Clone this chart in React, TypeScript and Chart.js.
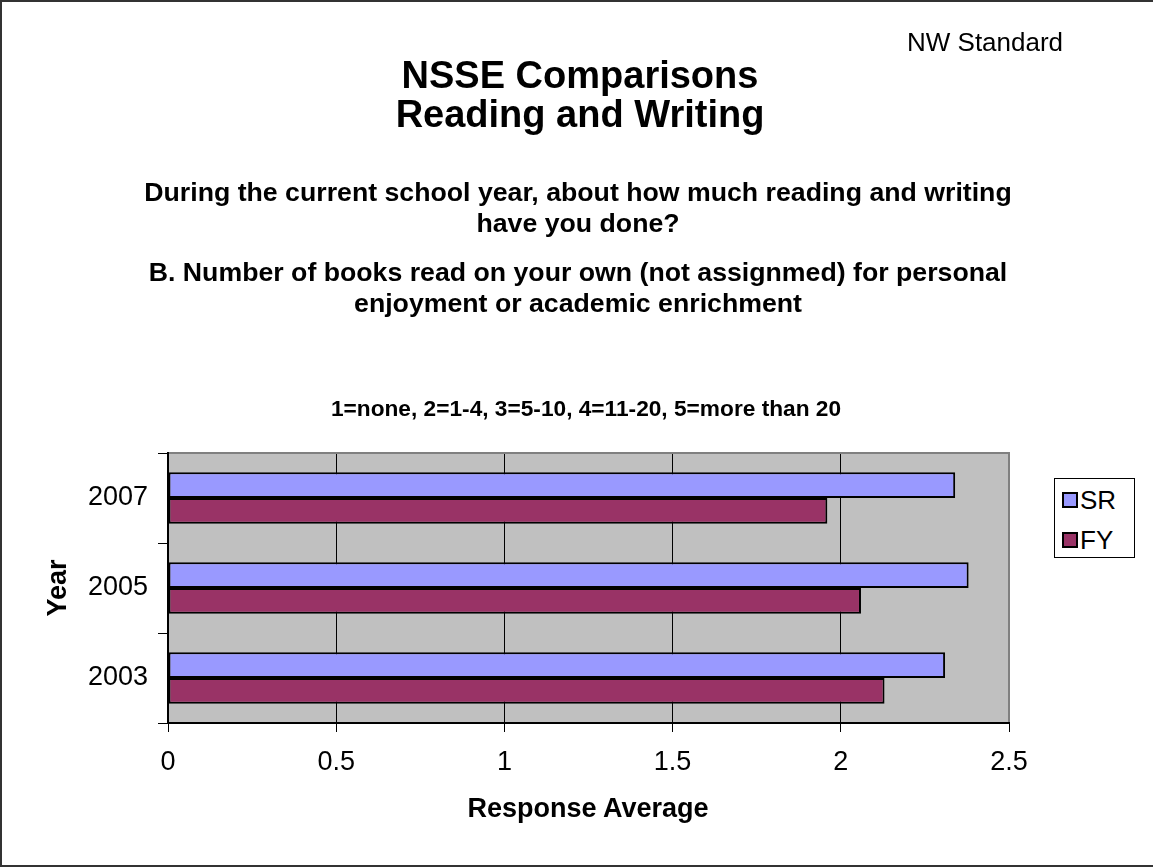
import React, { useEffect, useRef } from 'react';
import { Chart, registerables } from 'chart.js';

Chart.register(...registerables);

// ---- data ----
const categories = ['2007', '2005', '2003'];
const seriesNames = ['SR', 'FY'];
const srValues = [2.34, 2.38, 2.31];
const fyValues = [1.96, 2.06, 2.13];
const seriesColors = ['#9999FF', '#993366'];
const xTickLabels = ['0', '0.5', '1', '1.5', '2', '2.5'];

const titleLines = ['NSSE Comparisons', 'Reading and Writing'];
const questionLines = [
  'During the current school year, about how much reading and writing',
  'have you done?',
];
const itemLines = [
  'B. Number of books read on your own (not assignmed) for personal',
  'enjoyment or academic enrichment',
];
const scaleNote = '1=none, 2=1-4, 3=5-10, 4=11-20, 5=more than 20';
const cornerNote = 'NW Standard';
const xAxisTitle = 'Response Average';
const yAxisTitle = 'Year';

// ---- layout ----
const W = 1153;
const H = 867;
const AREA = { left: 168, top: 453, right: 1009, bottom: 723 };
const FONT = '"Liberation Sans", Arial, Helvetica, sans-serif';

const plotFrame = {
  id: 'plotFrame',
  beforeDraw(chart: any) {
    const { ctx, chartArea: a } = chart;
    ctx.save();
    ctx.fillStyle = '#C0C0C0';
    ctx.fillRect(a.left, a.top, a.right - a.left, a.bottom - a.top);
    ctx.restore();
  },
  afterDraw(chart: any) {
    const { ctx, chartArea: a } = chart;
    ctx.save();
    ctx.strokeStyle = '#808080';
    ctx.lineWidth = 2;
    ctx.beginPath();
    ctx.moveTo(a.left + 1, a.top);
    ctx.lineTo(a.right, a.top);
    ctx.lineTo(a.right, a.bottom - 1);
    ctx.stroke();
    ctx.restore();
  },
};

function Txt(props: {
  text: string;
  cx?: number;
  left?: number;
  baseline: number;
  size: number;
  bold?: boolean;
}) {
  const { text, cx, left, baseline, size, bold } = props;
  const top = baseline - 0.8465 * size;
  const style: React.CSSProperties = {
    position: 'absolute',
    top,
    fontFamily: FONT,
    fontSize: size,
    lineHeight: `${size}px`,
    fontWeight: bold ? 'bold' : 'normal',
    whiteSpace: 'nowrap',
    color: '#000',
  };
  if (cx !== undefined) {
    style.left = cx - 600;
    style.width = 1200;
    style.textAlign = 'center';
  } else {
    style.left = left;
  }
  return <div style={style}>{text}</div>;
}

export default function App() {
  const ref = useRef<HTMLCanvasElement | null>(null);

  useEffect(() => {
    if (!ref.current) return;
    const chart = new Chart(ref.current, {
      type: 'bar',
      data: {
        labels: categories,
        datasets: [
          {
            label: seriesNames[0],
            data: srValues,
            backgroundColor: seriesColors[0],
            borderColor: '#000',
            borderWidth: 2,
            borderSkipped: false,
          },
          {
            label: seriesNames[1],
            data: fyValues,
            backgroundColor: seriesColors[1],
            borderColor: '#000',
            borderWidth: 2,
            borderSkipped: false,
          },
        ],
      },
      options: {
        indexAxis: 'y',
        responsive: false,
        animation: false,
        events: [],
        layout: {
          padding: { top: AREA.top, right: W - AREA.right, left: 0, bottom: 0 },
        },
        datasets: {
          bar: { categoryPercentage: 0.57, barPercentage: 1.0 },
        },
        plugins: {
          legend: { display: false },
          tooltip: { enabled: false },
          title: { display: false },
        },
        scales: {
          x: {
            type: 'linear',
            min: 0,
            max: 2.5,
            ticks: {
              stepSize: 0.5,
              color: '#000',
              font: { family: FONT, size: 27 },
              padding: 14,
              callback: (_v: any, i: number) => xTickLabels[i],
            },
            grid: { color: '#000', lineWidth: 1, tickLength: 9, drawOnChartArea: true },
            border: { color: '#000', width: 2 },
            afterFit: (s: any) => {
              s.height = H - AREA.bottom;
            },
          },
          y: {
            type: 'category',
            ticks: {
              color: '#000',
              font: { family: FONT, size: 27 },
              padding: 10,
            },
            grid: {
              offset: true,
              drawOnChartArea: false,
              color: '#000',
              lineWidth: 1,
              tickLength: 10,
            },
            border: { color: '#000', width: 2 },
            afterFit: (s: any) => {
              s.width = AREA.left;
            },
          },
        },
      } as any,
      plugins: [plotFrame],
    });
    return () => chart.destroy();
  }, []);

  return (
    <div
      style={{
        position: 'absolute',
        left: 0,
        top: 0,
        width: W,
        height: H,
        background: '#fff',
        overflow: 'hidden',
      }}
    >
      <div
        style={{
          position: 'absolute',
          left: 0,
          top: 0,
          width: W,
          height: H,
          boxSizing: 'border-box',
          borderTop: '2px solid #333',
          borderLeft: '2px solid #333',
          borderBottom: '2px solid #333',
        }}
      />
      <canvas
        ref={ref}
        width={W}
        height={H}
        style={{ position: 'absolute', left: 0, top: 0, width: W, height: H }}
      />
      <Txt text={cornerNote} left={907} baseline={51} size={26} />
      <Txt text={titleLines[0]} cx={580} baseline={88} size={38} bold />
      <Txt text={titleLines[1]} cx={580} baseline={127} size={38} bold />
      <Txt text={questionLines[0]} cx={578} baseline={202} size={26.7} bold />
      <Txt text={questionLines[1]} cx={578} baseline={233} size={26.7} bold />
      <Txt text={itemLines[0]} cx={578} baseline={282} size={26.7} bold />
      <Txt text={itemLines[1]} cx={578} baseline={313} size={26.7} bold />
      <Txt text={scaleNote} cx={586} baseline={416} size={22.7} bold />
      <Txt text={xAxisTitle} cx={588} baseline={818} size={27} bold />
      <div
        style={{
          position: 'absolute',
          left: 57 - 100,
          top: 588 - 16,
          width: 200,
          height: 32,
          lineHeight: '32px',
          textAlign: 'center',
          transform: 'rotate(-90deg)',
          fontFamily: FONT,
          fontSize: 27,
          fontWeight: 'bold',
          color: '#000',
        }}
      >
        {yAxisTitle}
      </div>
      <div
        style={{
          position: 'absolute',
          left: 1054,
          top: 478,
          width: 81,
          height: 80,
          boxSizing: 'border-box',
          border: '1px solid #000',
          background: '#fff',
        }}
      >
        {seriesNames.map((name, i) => (
          <div
            key={name}
            style={{
              position: 'absolute',
              left: 7,
              top: 8 + i * 40,
              height: 26,
              display: 'flex',
              alignItems: 'center',
            }}
          >
            <div
              style={{
                width: 16,
                height: 16,
                boxSizing: 'border-box',
                border: '2px solid #000',
                background: seriesColors[i],
                marginRight: 2,
              }}
            />
            <span
              style={{
                fontFamily: FONT,
                fontSize: 26,
                lineHeight: '26px',
                color: '#000',
              }}
            >
              {name}
            </span>
          </div>
        ))}
      </div>
    </div>
  );
}
